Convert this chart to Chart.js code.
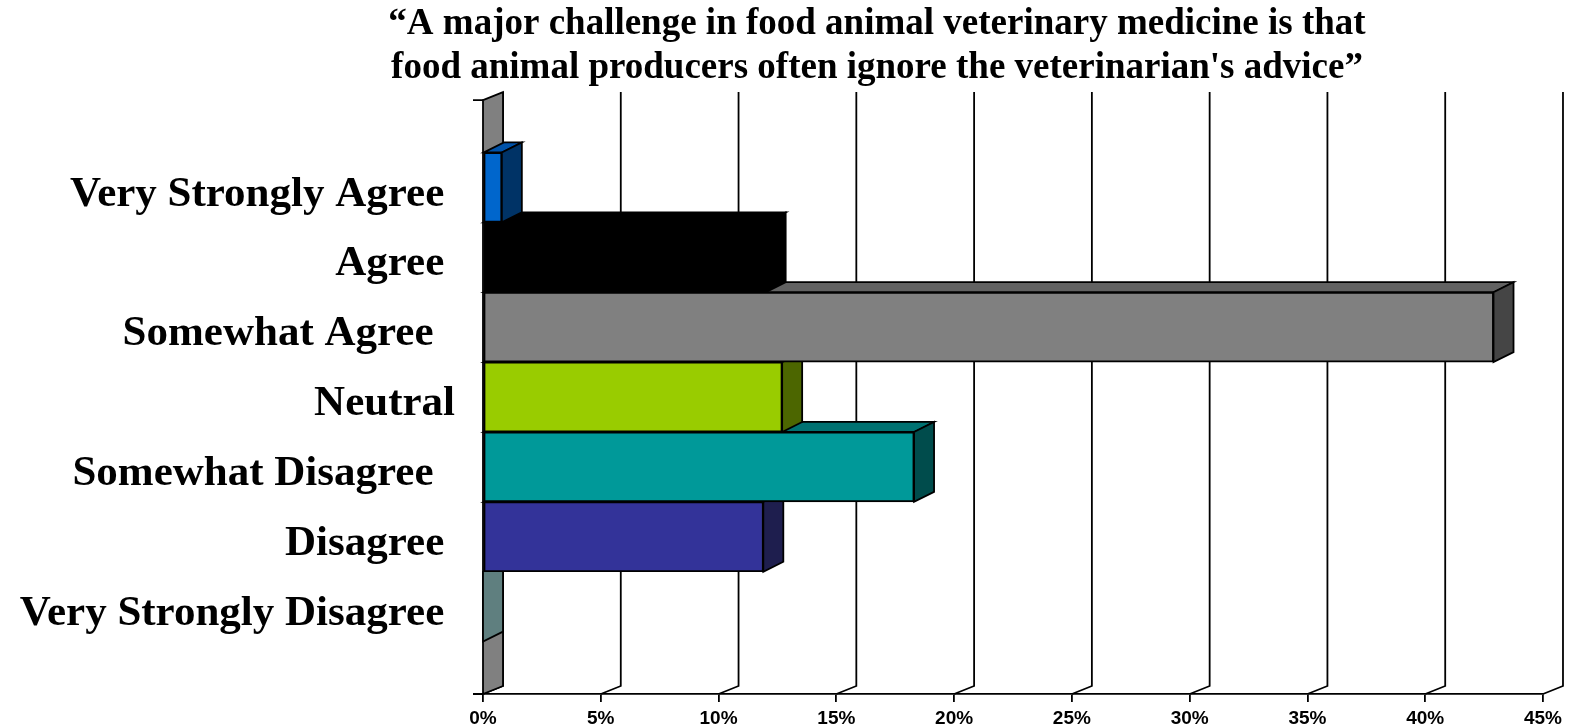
<!DOCTYPE html>
<html lang="en">
<head>
    <meta charset="UTF-8">
    <title>Food animal veterinary medicine</title>
    <script src="https://cdn.jsdelivr.net/npm/chart.js"></script>
    <style>
        body { margin: 0; background: #fff; }
        #wrap { width: 1569px; height: 726px; }
    </style>
</head>
<body>
    <div id="wrap"><canvas id="surveyChart"></canvas></div>

    <script>
        // data (trailing spaces are in the original labels)
        const categories = ['Very Strongly Agree ', 'Agree ', 'Somewhat Agree  ', 'Neutral',
                            'Somewhat Disagree  ', 'Disagree ', 'Very Strongly Disagree '];
        const percents = [0.8, 12, 42.9, 12.7, 18.3, 11.9, 0];
        const xTicks = [0, 5, 10, 15, 20, 25, 30, 35, 40, 45];
        const titleLines = ['\u201CA major challenge in food animal veterinary medicine is that',
                            'food animal producers often ignore the veterinarian\'s advice\u201D'];

        // colours of the three visible faces of each bar
        const frontColors = ['#0066CC', '#000000', '#808080', '#99CC00', '#009999', '#333399', '#5F7F7F'];
        const sideColors  = ['#003366', '#000000', '#454545', '#4C6600', '#004C4C', '#1E1E4E', '#5F7F7F'];
        const topColors   = ['#0052A8', '#000000', '#626262', '#7AA300', '#007272', '#262673', '#5F7F7F'];

        const WALL_DX = 20, WALL_DY = -8;   // depth of the floor/wall
        const BAR_DX = 20, BAR_DY = -10;    // depth of the bars

        function poly(ctx, pts, fill) {
            ctx.beginPath();
            ctx.moveTo(pts[0][0], pts[0][1]);
            for (let i = 1; i < pts.length; i++) ctx.lineTo(pts[i][0], pts[i][1]);
            ctx.closePath();
            if (fill) { ctx.fillStyle = fill; ctx.fill(); }
            ctx.stroke();
        }

        // draws the back gridlines, the side wall and the top/side faces of the bars
        const fake3d = {
            id: 'fake3d',
            afterLayout(chart) {
                // let the long category labels run into the left padding
                chart.scales.y.left = 0;
            },
            beforeDatasetsDraw(chart) {
                const { ctx, chartArea: a, scales: { x } } = chart;
                ctx.save();
                ctx.strokeStyle = '#000';
                ctx.lineWidth = 1.8;

                xTicks.forEach(v => {
                    const px = x.getPixelForValue(v);
                    ctx.beginPath();
                    ctx.moveTo(px, a.bottom);
                    ctx.lineTo(px + WALL_DX, a.bottom + WALL_DY);
                    ctx.lineTo(px + WALL_DX, a.top + WALL_DY);
                    ctx.stroke();
                });

                const x0 = x.getPixelForValue(0);
                poly(ctx, [[x0, a.bottom], [x0 + WALL_DX, a.bottom + WALL_DY],
                           [x0 + WALL_DX, a.top + WALL_DY], [x0, a.top]], '#808080');

                ctx.beginPath();
                ctx.moveTo(x0 - 10, a.top); ctx.lineTo(x0, a.top);
                ctx.moveTo(x0 - 10, a.bottom); ctx.lineTo(x0, a.bottom);
                ctx.stroke();

                const meta = chart.getDatasetMeta(0);
                for (let i = meta.data.length - 1; i >= 0; i--) {
                    const p = meta.data[i].getProps(['x', 'y', 'base', 'height'], true);
                    const t = p.y - p.height / 2, b = p.y + p.height / 2;
                    poly(ctx, [[p.base, t], [p.x, t], [p.x + BAR_DX, t + BAR_DY], [p.base + BAR_DX, t + BAR_DY]], topColors[i]);
                    poly(ctx, [[p.x, t], [p.x + BAR_DX, t + BAR_DY], [p.x + BAR_DX, b + BAR_DY], [p.x, b]], sideColors[i]);
                }
                ctx.restore();
            }
        };

        const ctx = document.getElementById('surveyChart').getContext('2d');
        const surveyChart = new Chart(ctx, {
            type: 'bar',
            data: {
                datasets: [{
                    data: percents.map((v, i) => ({ x: v, y: i })),
                    backgroundColor: frontColors,
                    borderColor: '#000',
                    borderWidth: 1.8,
                    borderSkipped: false,
                    barPercentage: 1,
                    categoryPercentage: 1
                }]
            },
            options: {
                indexAxis: 'y',
                responsive: true,
                maintainAspectRatio: false,
                animation: false,
                layout: { padding: { left: 209, right: 24, top: 0, bottom: 0 } },
                plugins: {
                    legend: { display: false },
                    tooltip: { enabled: false },
                    title: {
                        display: true,
                        text: titleLines,
                        color: '#000',
                        font: { family: 'Liberation Serif', weight: 'bold', size: 37, lineHeight: 1.19 },
                        padding: { top: 2, bottom: 10 }
                    }
                },
                scales: {
                    x: {
                        type: 'linear',
                        min: 0,
                        max: 45,
                        afterBuildTicks: s => { s.ticks = xTicks.map(v => ({ value: v })); },
                        afterFit: s => { s.height = 32; },
                        ticks: {
                            callback: v => v + '%',
                            color: '#000',
                            font: { family: 'Liberation Sans', weight: 'bold', size: 19, lineHeight: 1 },
                            padding: 7,
                            maxRotation: 0
                        },
                        grid: { display: true, drawOnChartArea: false, drawTicks: true, tickLength: 8, color: '#000', lineWidth: 1.8 },
                        border: { display: true, color: '#000', width: 1.8 }
                    },
                    y: {
                        type: 'linear',
                        reverse: true,
                        offset: false,
                        bounds: 'data',
                        min: -1.25,
                        max: 7.25,
                        afterBuildTicks: s => { s.ticks = categories.map((c, i) => ({ value: i })); },
                        afterFit: s => { s.width = 274; s.paddingTop = 0; s.paddingBottom = 0; },
                        ticks: {
                            callback: v => categories[v],
                            color: '#000',
                            font: { family: 'Liberation Serif', weight: 'bold', size: 43 },
                            padding: 28,
                            labelOffset: 7
                        },
                        grid: { display: false, drawTicks: false },
                        border: { display: false }
                    }
                }
            },
            plugins: [fake3d]
        });
    </script>
</body>
</html>
